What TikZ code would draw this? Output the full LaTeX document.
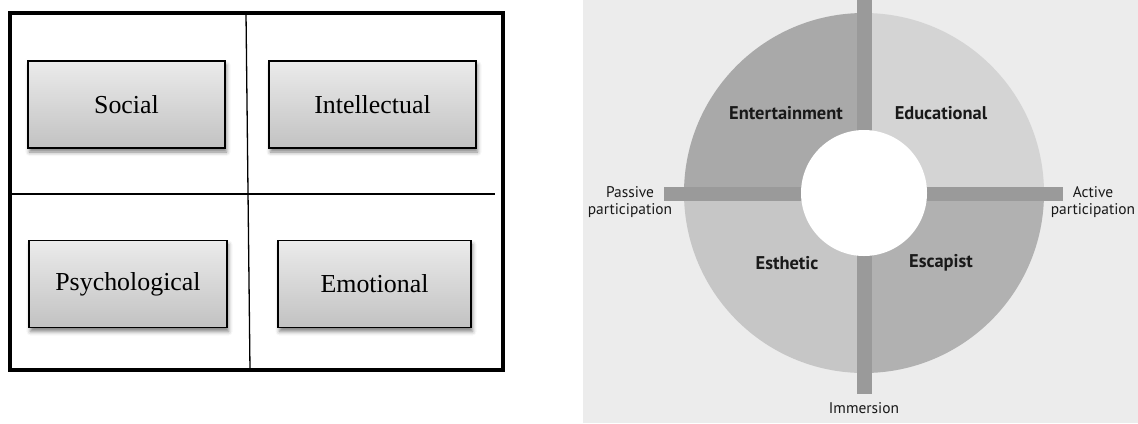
\documentclass[tikz,border=0pt]{standalone}
\usepackage{fontspec}
\setmainfont{Liberation Serif}
\newfontfamily\labelfont{PT Sans}
\usetikzlibrary{shadows.blur}

\definecolor{bgpanel}{HTML}{ECECEC}
\definecolor{qent}{HTML}{A9A9A9}
\definecolor{qedu}{HTML}{D4D4D4}
\definecolor{qest}{HTML}{C6C6C6}
\definecolor{qesc}{HTML}{B1B1B1}
\definecolor{axisbar}{HTML}{9A9A9A}
\definecolor{boxtop}{HTML}{EBEBEB}
\definecolor{boxbot}{HTML}{C2C2C2}

\tikzset{
  dimbox/.style={draw=black, line width=1.4bp, top color=boxtop, bottom color=boxbot,
    minimum height=87bp, inner sep=0pt,
    font=\fontsize{26}{30}\selectfont,
    blur shadow={shadow xshift=1.5bp, shadow yshift=-4bp, shadow blur radius=4bp, shadow opacity=50}},
  quadlabel/.style={font=\labelfont\bfseries\fontsize{18.5}{20}\selectfont, text=black!90, inner sep=0pt},
  axislabel/.style={font=\labelfont\fontsize{15.5}{16.5}\selectfont, text=black!90, align=center, inner sep=0pt},
  divider/.style={line width=1.3bp}
}

\begin{document}
\begin{tikzpicture}[x=1bp, y=-1bp]
\useasboundingbox (0,0) rectangle (1138,423);

% ---- four dimensions grid ----
\draw[line width=4bp] (10,13) rectangle (503,370);
\draw[divider] (246,13) -- (250,370);
\draw[divider] (10,194) -- (495,194);

\node[dimbox, minimum width=197bp] (social) at (126.5,104.5) {Social};
\node[dimbox, minimum width=207bp] (intel) at (372.5,104.5) {Intellectual};
\node[dimbox, minimum width=198bp] (psych) at (128,284) {Psychological};
\node[dimbox, minimum width=193bp] (emot) at (374.5,284) {Emotional};

% ---- four realms of experience ----
\begin{scope}
\clip (583,0) rectangle (1138,423);
\fill[bgpanel] (583,0) rectangle (1138,423);
\coordinate (c) at (864,193);
\begin{scope}\clip (c) rectangle (600,0);
  \fill[qent] (c) circle[radius=180];\end{scope}
\begin{scope}\clip (c) rectangle (1130,0);
  \fill[qedu] (c) circle[radius=180];\end{scope}
\begin{scope}\clip (c) rectangle (600,420);
  \fill[qest] (c) circle[radius=180];\end{scope}
\begin{scope}\clip (c) rectangle (1130,420);
  \fill[qesc] (c) circle[radius=180];\end{scope}

\fill[axisbar] (856.5,0) rectangle (871.5,394);
\fill[axisbar] (664,187) rectangle (1063,201);
\fill[white] (c) circle[radius=63];

\node[quadlabel] (ent) at (786,113) {Entertainment};
\node[quadlabel] (edu) at (941,113) {Educational};
\node[quadlabel] (est) at (787,263) {Esthetic};
\node[quadlabel] (esc) at (941,263) {Escapist};

\node[axislabel] (passive) at (630,202) {Passive\\participation};
\node[axislabel] (active) at (1093,202) {Active\\participation};
\node[axislabel] (immersion) at (864,408) {Immersion};
\end{scope}
\end{tikzpicture}
\end{document}
